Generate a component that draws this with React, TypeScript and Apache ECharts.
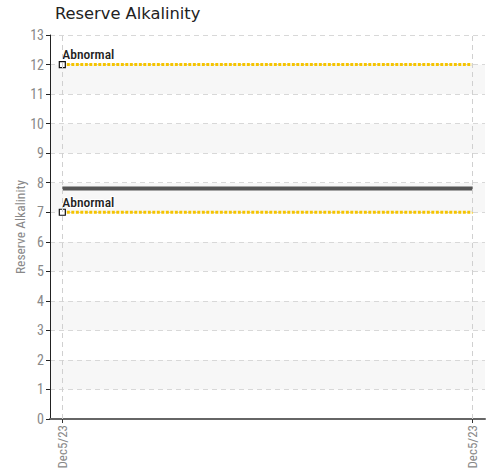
import React, { useEffect, useRef } from "react";
import * as echarts from "echarts";

const categories = ["Dec5/23", "Dec5/23"];
const xPositions = [0, 1];
const upperLimit = [12, 12];
const lowerLimit = [7, 7];
const measured = [7.8, 7.8];
const limitLabel = "Abnormal";
const yTicks = { min: 0, max: 13, interval: 1 };

const COND = "'Roboto Condensed', Roboto, sans-serif";

function limitSeries(values: number[]) {
  return {
    type: "line",
    data: values.map((v, i) => ({
      value: [xPositions[i], v],
      symbol: i === 0 ? "rect" : "none",
      label: i === 0
        ? {
            show: true,
            formatter: limitLabel,
            position: "top",
            align: "left",
            offset: [0, 5],
            color: "#222",
            fontFamily: COND,
            fontSize: 13.5,
            fontWeight: 500,
            textBorderColor: "#fff",
            textBorderWidth: 2,
          }
        : { show: false },
    })),
    symbolSize: 6,
    itemStyle: { color: "#fff", borderColor: "#111", borderWidth: 1.2 },
    lineStyle: { color: "#f5c400", width: 3, type: [3, 1.5] },
    z: 3,
  };
}

export default function App() {
  const ref = useRef<HTMLDivElement>(null);
  useEffect(() => {
    const chart = echarts.init(ref.current!, null, { renderer: "svg" });
    chart.setOption({
      animation: false,
      backgroundColor: "#fff",
      title: {
        text: "Reserve Alkalinity",
        left: 50,
        top: 0,
        textStyle: { fontFamily: "'DejaVu Sans', sans-serif", fontSize: 16.3, fontWeight: "normal", color: "#222" },
      },
      grid: { left: 50, right: 7, top: 35, bottom: 57, containLabel: false, outerBoundsMode: "none" },
      xAxis: {
        type: "value",
        min: -0.03,
        max: 1.03,
        axisLine: { show: true, onZero: false, lineStyle: { color: "#666", width: 2 } },
        axisTick: { show: true, customValues: xPositions, length: 4, lineStyle: { color: "#333" } },
        axisLabel: {
          customValues: xPositions,
          rotate: 90,
          formatter: (v: number) => categories[Math.round(v)] ?? "",
          color: "#888",
          fontFamily: COND,
          fontSize: 13,
          margin: 6,
        },
        splitLine: { show: false },
      },
      yAxis: {
        type: "value",
        min: yTicks.min,
        max: yTicks.max,
        interval: yTicks.interval,
        name: "Reserve Alkalinity",
        nameLocation: "middle",
        nameGap: 23,
        nameMoveOverlap: false,
        nameTextStyle: { color: "#888", fontFamily: COND, fontSize: 13.5 },
        axisLine: { show: true, onZero: false, lineStyle: { color: "#222", width: 1 } },
        axisTick: { show: true, length: 4, lineStyle: { color: "#222" } },
        axisLabel: { color: "#888", fontFamily: COND, fontSize: 14, margin: 6 },
        splitLine: { show: true, lineStyle: { color: "#d8d8d8", type: [5, 4] } },
        splitArea: { show: true, areaStyle: { color: ["#ffffff", "#f7f7f7"] } },
      },
      series: [
        {
          type: "line",
          data: [],
          markLine: {
            silent: true,
            symbol: "none",
            label: { show: false },
            lineStyle: { color: "#d0d0d0", type: [5, 4], width: 1 },
            data: xPositions.map((x) => ({ xAxis: x })),
          },
          z: 1,
        },
        {
          type: "line",
          data: measured.map((v, i) => [xPositions[i], v]),
          symbol: "none",
          lineStyle: { color: "#555", width: 4 },
          z: 2,
        },
        limitSeries(upperLimit),
        limitSeries(lowerLimit),
      ],
    });
    return () => chart.dispose();
  }, []);
  return <div ref={ref} style={{ width: 492, height: 476, position: "absolute", left: 0, top: 0 }} />;
}
